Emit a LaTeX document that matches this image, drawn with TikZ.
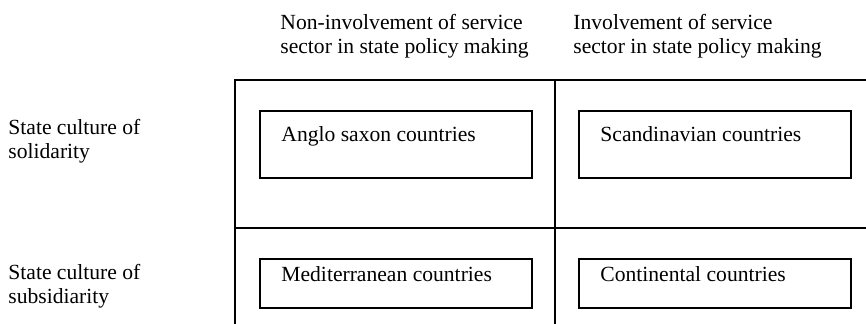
\documentclass[tikz,border=0pt]{standalone}
\usepackage{fontspec}
\setmainfont{Liberation Serif}
\usetikzlibrary{calc}

\begin{document}
\begin{tikzpicture}[x=0.5pt, y=-0.5pt,
  every node/.style={font=\fontsize{10.8}{12.25}\selectfont, inner sep=0pt},
  grid line/.style={line width=1pt},
  country box/.style={draw, line width=1pt, minimum width=136pt},
  label text/.style={anchor=base west, align=left}]
\useasboundingbox (0,0) rectangle (866,324);
% Corners of the table
\coordinate (topleft) at (235,80);
\coordinate (topmid) at (555,80);
\coordinate (topright) at (866,80);
\coordinate (midleft) at (235,228);
\coordinate (midright) at (866,228);
\coordinate (botleft) at (235,324);
\coordinate (botmid) at (555,324);
% Draw table lines
\draw[grid line] (topright) -- (topleft) -- (botleft);
\draw[grid line] (topmid) -- (botmid);
\draw[grid line] (midleft) -- (midright);
% Column headings
\node[label text] (noninv) at (280,54) {Non-involvement of service\\sector in state policy making};
\node[label text] (inv) at (573,54) {Involvement of service\\sector in state policy making};
% Row headings
\node[label text] (solid) at (8,159) {State culture of\\solidarity};
\node[label text] (subsid) at (8,304) {State culture of\\subsidiarity};
% Draw country boxes
\node[country box, minimum height=33.5pt] (anglo) at (396,144.5) {};
\node[country box, minimum height=33.5pt] (scand) at (715,144.5) {};
\node[country box, minimum height=24.5pt] (medit) at (396,283.5) {};
\node[country box, minimum height=24.5pt] (conti) at (715,283.5) {};
% Country names
\node[label text] (angloname) at ($(anglo.north west)+(22,32)$) {Anglo saxon countries};
\node[label text] (scandname) at ($(scand.north west)+(22,32)$) {Scandinavian countries};
\node[label text] (meditname) at ($(medit.north west)+(22,24)$) {Mediterranean countries};
\node[label text] (continame) at ($(conti.north west)+(22,24)$) {Continental countries};
\end{tikzpicture}
\end{document}
